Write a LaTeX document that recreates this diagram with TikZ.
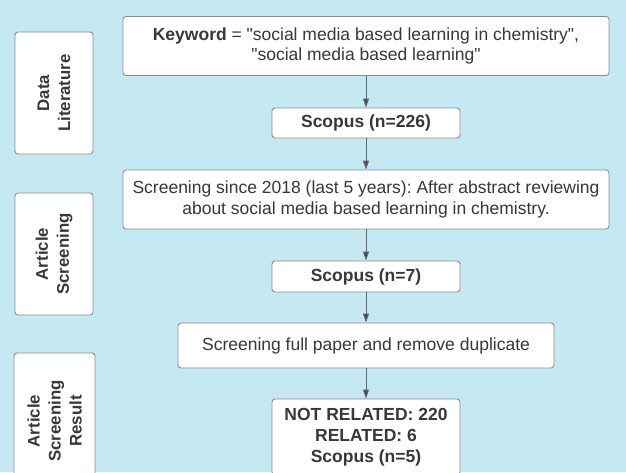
\documentclass[tikz,border=0pt]{standalone}
\usepackage{fontspec}
\setmainfont{Liberation Sans}[Ligatures=TeXOff]
\usetikzlibrary{arrows.meta}
\frenchspacing
\definecolor{bgblue}{RGB}{197,233,243}
\definecolor{boxline}{RGB}{140,140,140}
\definecolor{txt}{RGB}{55,55,60}
\definecolor{arrowgray}{RGB}{75,75,80}
\tikzset{
  flowbox/.style={draw=boxline, line width=0.9pt, fill=white, rounded corners=3pt,
    align=center, text=txt, font=\fontsize{17.5}{20.5}\selectfont, inner sep=0pt},
  boldbox/.style={flowbox, font=\bfseries\fontsize{17.5}{21}\selectfont},
  sidelabel/.style={rotate=90, align=center, text=txt, font=\bfseries\fontsize{16.8}{21}\selectfont},
  flow/.style={draw=arrowgray!85, line width=0.9pt,
    -{Triangle[length=9pt,width=6pt,fill=arrowgray]}}
}
\begin{document}
\begin{tikzpicture}[x=1pt,y=-1pt]
  \useasboundingbox (0,0) rectangle (626,472);
  \fill[bgblue] (0,0) rectangle (626,472);
  \clip (0,0) rectangle (626,472);

  % stage labels on the left
  \node[flowbox, minimum width=78pt, minimum height=122pt] (s1) at (54,93) {};
  \node[sidelabel] (s1t) at (s1.center) {Data\\Literature};
  \node[flowbox, minimum width=78pt, minimum height=122pt] (s2) at (54,254) {};
  \node[sidelabel] (s2t) at (s2.center) {Article\\Screening};
  \node[flowbox, minimum width=81pt, minimum height=136pt] (s3) at (54.5,421) {};
  \node[sidelabel] (s3t) at (s3.center) {Article\\Screening\\Result};

  % main flow
  \node[flowbox, minimum width=486pt, minimum height=59pt] (kw) at (366,46)
    {\textbf{Keyword} = "social media based learning in chemistry",\\"social media based learning"};
  \node[boldbox, minimum width=188pt, minimum height=30pt] (sc1) at (366,123) {Scopus (n=226)};
  \node[flowbox, minimum width=486pt, minimum height=59pt] (scr) at (366,199.5)
    {Screening since 2018 (last 5 years): After abstract reviewing\\about social media based learning in chemistry.};
  \node[boldbox, minimum width=188pt, minimum height=31pt] (sc2) at (366,276.5) {Scopus (n=7)};
  \node[flowbox, minimum width=376pt, minimum height=45pt] (full) at (366,345.5)
    {Screening full paper and remove duplicate};
  \node[boldbox, minimum width=188pt, minimum height=76pt] (res) at (366,437)
    {NOT RELATED: 220\\RELATED: 6\\Scopus (n=5)};

  \draw[flow] (kw) -- (sc1);
  \draw[flow] (sc1) -- (scr);
  \draw[flow] (scr) -- (sc2);
  \draw[flow] (sc2) -- (full);
  \draw[flow] (full) -- (res);
\end{tikzpicture}
\end{document}
